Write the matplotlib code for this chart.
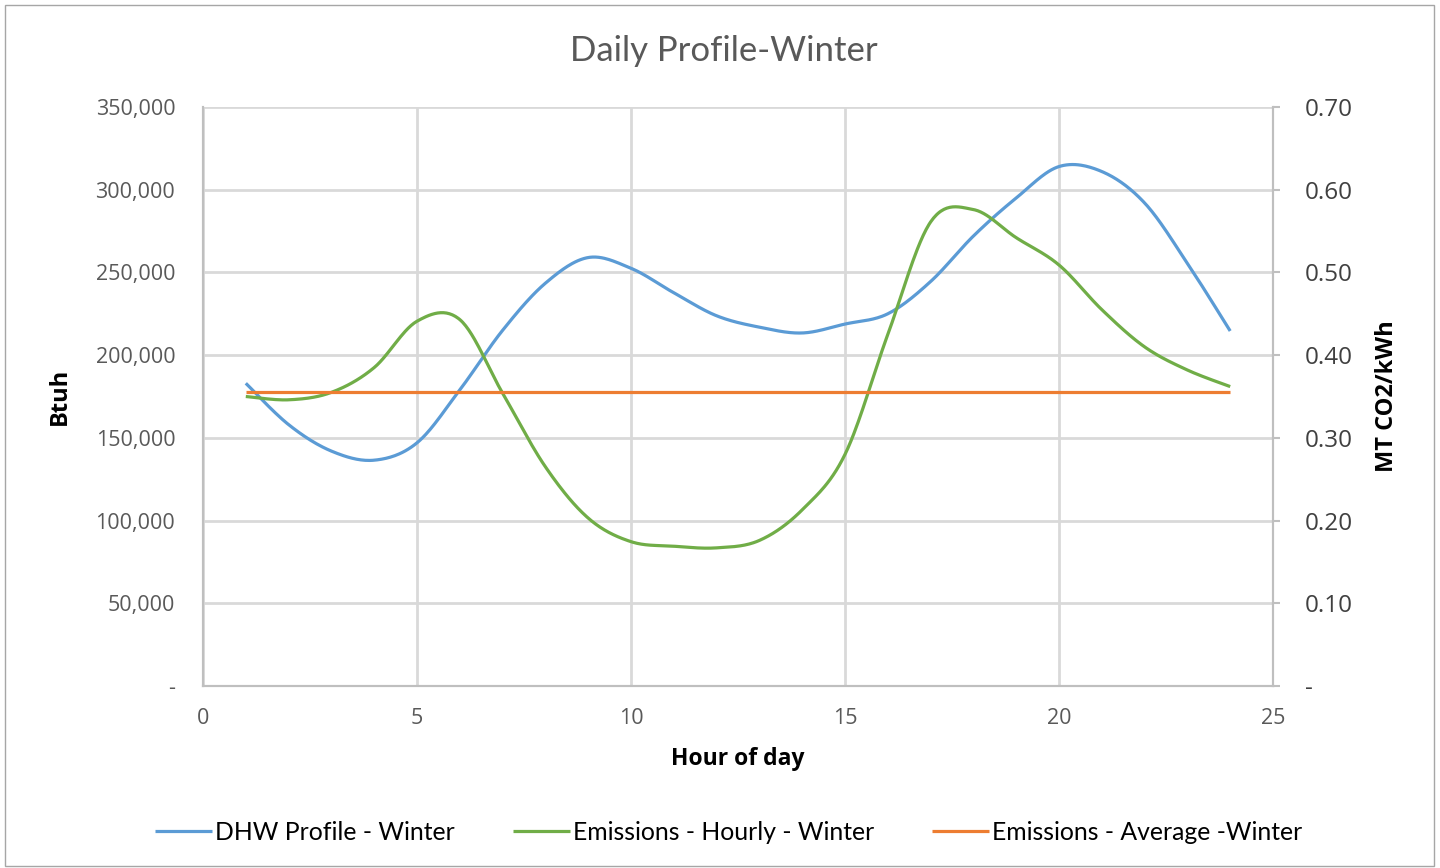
import numpy as np
import matplotlib
matplotlib.use("Agg")
import matplotlib.pyplot as plt
from matplotlib.ticker import FixedLocator, FuncFormatter
from matplotlib.patches import Rectangle

# ---- data ----
hours = list(range(1, 25))
dhw_profile = [183000, 158000, 142000, 136500, 147000, 179000, 215000, 243500,
               259000, 252500, 237700, 223800, 216900, 213400, 218800, 225000,
               244500, 272000, 295000, 314000, 311000, 292000, 255500, 214600]
emissions_hourly = [0.350, 0.346, 0.355, 0.385, 0.441, 0.443, 0.354, 0.265,
                    0.203, 0.1745, 0.169, 0.167, 0.176, 0.213, 0.280, 0.425,
                    0.561, 0.576, 0.542, 0.509, 0.455, 0.410, 0.382, 0.362]
emissions_avg = [0.355] * 24

title = "Daily Profile-Winter"
x_label = "Hour of day"
y_label_left = "Btuh"
y_label_right = "MT CO2/kWh"
legend_labels = ["DHW Profile - Winter", "Emissions - Hourly - Winter",
                 "Emissions - Average -Winter"]
x_ticks = [0, 5, 10, 15, 20, 25]
left_ticks = [0, 50000, 100000, 150000, 200000, 250000, 300000, 350000]
right_ticks = [0, 0.1, 0.2, 0.3, 0.4, 0.5, 0.6, 0.7]

BLUE = "#5B9BD5"
GREEN = "#70AD47"
ORANGE = "#ED7D31"
GRID = "#D9D9D9"
SPINE = "#BFBFBF"


def smooth(x, y, n=30):
    """Excel-like smoothed line: cubic Bezier segments with Catmull-Rom controls."""
    x = np.asarray(x, float)
    y = np.asarray(y, float)
    P = np.column_stack([x, y])
    out = [P[0]]
    t = np.linspace(0, 1, n)[1:]
    for i in range(len(P) - 1):
        p0 = P[i - 1] if i > 0 else P[i]
        p1 = P[i]
        p2 = P[i + 1]
        p3 = P[i + 2] if i + 2 < len(P) else P[i + 1]
        c1 = p1 + (p2 - p0) / 6.0
        c2 = p2 - (p3 - p1) / 6.0
        for tt in t:
            b = ((1 - tt) ** 3) * p1 + 3 * ((1 - tt) ** 2) * tt * c1 \
                + 3 * (1 - tt) * tt ** 2 * c2 + tt ** 3 * p2
            out.append(b)
    out = np.array(out)
    return out[:, 0], out[:, 1]


W, H = 1440, 868
fig = plt.figure(figsize=(W / 100, H / 100), dpi=100)
fig.patch.set_facecolor("white")

# outer chart border
fig.add_artist(Rectangle((5 / W, 1 - 866 / H), (1434 - 5) / W, (866 - 5) / H,
                         transform=fig.transFigure, fill=False,
                         edgecolor="#A6A6A6", linewidth=1.0))

left, right, top, bottom = 203, 1273, 107, 686
ax = fig.add_axes([left / W, 1 - bottom / H, (right - left) / W, (bottom - top) / H])
ax2 = ax.twinx()

lw = 2.3
xs, ys = smooth(hours, dhw_profile)
l1, = ax.plot(xs, ys, color=BLUE, linewidth=lw, solid_capstyle="butt", zorder=3)
xs, ys = smooth(hours, emissions_hourly)
l2, = ax2.plot(xs, ys, color=GREEN, linewidth=lw, solid_capstyle="butt", zorder=3)
l3, = ax2.plot(hours, emissions_avg, color=ORANGE, linewidth=lw,
               solid_capstyle="butt", zorder=4)

ax.set_xlim(0, 25)
ax.set_ylim(0, 350000)
ax2.set_ylim(0, 0.7)

ax.xaxis.set_major_locator(FixedLocator(x_ticks))
ax.yaxis.set_major_locator(FixedLocator(left_ticks))
ax2.yaxis.set_major_locator(FixedLocator(right_ticks))

ax.yaxis.set_major_formatter(FuncFormatter(lambda v, p: "-" if v == 0 else f"{int(v):,}"))
ax2.yaxis.set_major_formatter(FuncFormatter(lambda v, p: "-" if v == 0 else f"{v:.2f}"))

ax.grid(True, color=GRID, linewidth=2.0)
ax.set_axisbelow(True)

for a in (ax, ax2):
    for s in a.spines.values():
        s.set_color(SPINE)
        s.set_linewidth(1.5)
ax.spines["top"].set_visible(False)
ax2.spines["top"].set_visible(False)

tick_font = "Open Sans"
ax.tick_params(axis="x", length=0, pad=16, labelsize=15.5, labelcolor="#595959")
ax.tick_params(axis="y", length=0, pad=20, labelsize=15.5, labelcolor="#595959")
ax2.tick_params(axis="y", length=5, width=1.5, color=SPINE, pad=18,
                labelsize=17.5, labelcolor="#404040")
for lab in ax.get_xticklabels() + ax.get_yticklabels() + ax2.get_yticklabels():
    lab.set_fontfamily(tick_font)

ax.set_xlabel(x_label, fontsize=16.5, fontweight="bold", fontfamily="Open Sans",
              color="#000000", labelpad=13)
ax.set_ylabel(y_label_left, fontsize=17, fontweight="bold", fontfamily="Open Sans",
              color="#000000", labelpad=17)
ax2.set_ylabel(y_label_right, fontsize=17, fontweight="bold", fontfamily="Open Sans",
               color="#000000", labelpad=16)

fig.text(724 / W, 1 - 51 / H, title, ha="center", va="center", fontsize=25,
         fontfamily="Lato", color="#595959")

leg = fig.legend([l1, l2, l3], legend_labels, loc="center", ncol=3,
                 bbox_to_anchor=(728.5 / W, 1 - 832 / H), frameon=False,
                 prop={"family": "Lato", "size": 17.8}, handlelength=2.3,
                 handletextpad=0.12, columnspacing=2.35)
for t in leg.get_texts():
    t.set_color("#000000")

fig.savefig("out.png", dpi=100, facecolor="white")
